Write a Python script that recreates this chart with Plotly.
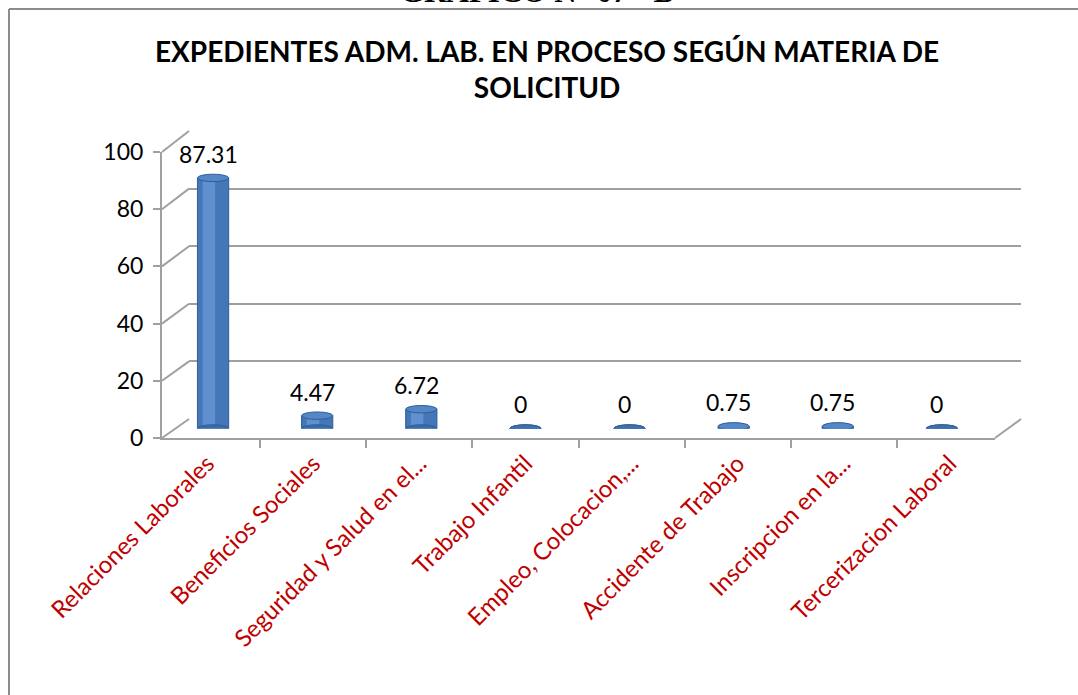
import plotly.graph_objects as go

# data
categorias = ["Relaciones Laborales", "Beneficios Sociales", "Seguridad y Salud en el...",
              "Trabajo Infantil", "Empleo, Colocacion,...", "Accidente de Trabajo",
              "Inscripcion en la...", "Tercerizacion Laboral"]
valores = [87.31, 4.47, 6.72, 0, 0, 0.75, 0.75, 0]
etiquetas = ["87.31", "4.47", "6.72", "0", "0", "0.75", "0.75", "0"]
y_ticks = [0, 20, 40, 60, 80, 100]

W, H = 1078, 695
px = lambda x: x / W
py = lambda y: 1 - y / H

# front face, back wall and bar (mid depth) geometry in pixels
FX0, FX1, FY0, FY100 = 162, 995, 438, 152
BX0, BX1, BY0, BY100 = 189, 1021, 419, 131
MY0, MY100 = (FY0 + BY0) / 2, (FY100 + BY100) / 2

grid = "#a0a0a0"
font = "Lato, 'Open Sans', sans-serif"
n = len(categorias)
idx = list(range(n))

fig = go.Figure()

# cylinders
fig.add_trace(go.Bar(x=idx, y=valores, xaxis="x3", yaxis="y3", width=0.3,
                     marker=dict(color="#4377b8", line=dict(color="#2f5e9a", width=1)),
                     hoverinfo="skip"))
fig.add_trace(go.Bar(x=idx, y=valores, xaxis="x3", yaxis="y3", width=0.12, offset=-0.1,
                     marker=dict(color="#6a9ad6", line=dict(width=0)), opacity=0.75,
                     hoverinfo="skip"))
# front axis (categories) just to carry ticks and labels
fig.add_trace(go.Scatter(x=categorias, y=[None] * n, xaxis="x", yaxis="y",
                         mode="markers", hoverinfo="skip"))
fig.add_trace(go.Scatter(x=[0, 1], y=[None, None], xaxis="x2", yaxis="y2",
                         hoverinfo="skip"))

shapes = []
# back floor / left wall diagonals
for v in y_ticks:
    yf = FY0 + (FY100 - FY0) * v / 100
    yb = BY0 + (BY100 - BY0) * v / 100
    shapes.append(dict(type="line", xref="paper", yref="paper",
                       x0=px(FX0), y0=py(yf), x1=px(BX0), y1=py(yb),
                       line=dict(color=grid, width=2)))
shapes.append(dict(type="line", xref="paper", yref="paper",
                   x0=px(FX1), y0=py(FY0), x1=px(BX1), y1=py(BY0),
                   line=dict(color=grid, width=2)))

# cylinder ends (ellipses)
eh = 1.3
for i, v in zip(idx, valores):
    shapes.append(dict(type="circle", xref="x3", yref="y3",
                       x0=i - 0.15, x1=i + 0.15, y0=-eh, y1=eh,
                       fillcolor="#3a6aa8", line=dict(color="#2f5e9a", width=1)))
    shapes.append(dict(type="circle", xref="x3", yref="y3",
                       x0=i - 0.15, x1=i + 0.15, y0=v - eh, y1=v + eh,
                       fillcolor="#3f71ad" if v == 0 else "#5487c6",
                       line=dict(color="#2f5e9a", width=1)))

# outer frame
shapes.append(dict(type="line", xref="paper", yref="paper", x0=px(9), y0=py(9),
                   x1=1, y1=py(9), line=dict(color="#8c8c8c", width=2)))
shapes.append(dict(type="line", xref="paper", yref="paper", x0=px(9), y0=py(9),
                   x1=px(9), y1=0, line=dict(color="#8c8c8c", width=2)))

annotations = [dict(x=i, y=v, xref="x3", yref="y3", text=t, showarrow=False,
                    yanchor="bottom", yshift=8, xshift=-5,
                    font=dict(family=font, size=23, color="black"))
               for i, v, t in zip(idx, valores, etiquetas)]
# header of the page, cut off by the top edge as in the original
annotations.append(dict(x=px(537), y=py(-8.5), xref="paper", yref="paper",
                        text="<b>GRÁFICO N° 07 - B</b>", showarrow=False, yanchor="middle",
                        font=dict(family="'Liberation Serif', serif", size=31, color="black")))
annotations.append(dict(x=px(547), y=py(69), xref="paper", yref="paper",
                        text="<b>EXPEDIENTES ADM. LAB. EN PROCESO SEGÚN MATERIA DE<br>SOLICITUD</b>",
                        showarrow=False, align="center", yanchor="middle",
                        font=dict(family=font, size=28, color="black")))

fig.update_layout(
    template="none",
    width=W, height=H, margin=dict(l=0, r=0, t=0, b=0),
    paper_bgcolor="white", plot_bgcolor="rgba(0,0,0,0)",
    showlegend=False, barmode="overlay",
    xaxis=dict(domain=[px(FX0), px(FX1)], type="category", tickson="boundaries",
               showline=True, linecolor=grid, linewidth=2, ticks="outside",
               ticklen=8, tickcolor=grid, tickwidth=2, tickangle=-45,
               tickfont=dict(family=font, size=24, color="#c00000"),
               showgrid=False, zeroline=False, fixedrange=True, automargin=False),
    yaxis=dict(domain=[py(FY0), py(FY100)], range=[0, 100], tickvals=y_ticks,
               showline=True, linecolor=grid, linewidth=2, ticks="outside",
               ticklen=7, tickcolor=grid, tickwidth=2, showgrid=False, zeroline=False,
               ticklabelstandoff=5,
               tickfont=dict(family=font, size=23, color="black"), fixedrange=True,
               automargin=False),
    xaxis2=dict(domain=[px(BX0), px(BX1)], range=[0, 1], visible=False, automargin=False),
    yaxis2=dict(domain=[py(BY0), py(BY100)], range=[0, 100], tickvals=y_ticks,
                showgrid=True, gridcolor=grid, gridwidth=2, showticklabels=False,
                zeroline=False, anchor="x2", automargin=False),
    xaxis3=dict(domain=[px(FX0 - 1), px(FX1 - 1)], range=[-0.5, n - 0.5], visible=False,
                anchor="y3", automargin=False),
    yaxis3=dict(domain=[py(MY0), py(MY100)], range=[0, 100], visible=False, anchor="x3",
                automargin=False),
    shapes=shapes, annotations=annotations,
)

# drop the default page margin so the figure starts at the window corner
fig.write_html("out.html", config={"displayModeBar": False},
               post_script="document.body.style.margin = '0';")
